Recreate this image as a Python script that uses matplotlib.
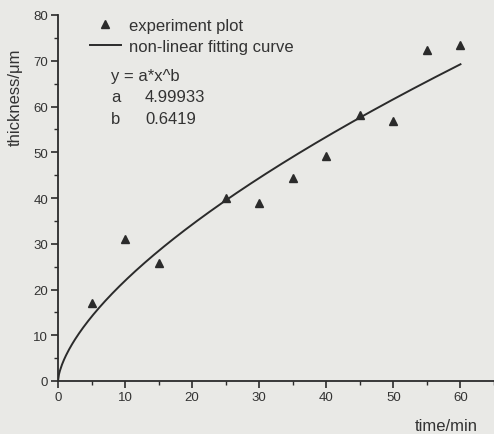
import numpy as np
import matplotlib
matplotlib.use("Agg")
import matplotlib.pyplot as plt
from matplotlib.ticker import MultipleLocator
from matplotlib.lines import Line2D

# ---- data ----
time_min = [5, 10, 15, 25, 30, 35, 40, 45, 50, 55, 60]
thickness_um = [17.0, 31.0, 25.9, 40.0, 38.9, 44.4, 49.2, 58.1, 56.8, 72.3, 73.4]
fit_a = 4.99933
fit_b = 0.6419
fit_x_max = 60
x_ticks = [0, 10, 20, 30, 40, 50, 60]
y_ticks = [0, 10, 20, 30, 40, 50, 60, 70, 80]

plt.rcParams['font.family'] = ['Liberation Sans', 'DejaVu Sans']
ink = '#2b2b2b'
bg = '#e9e9e6'

W, H = 494, 435
fig = plt.figure(figsize=(W / 100, H / 100), dpi=100, facecolor=bg)
ax = fig.add_axes([58 / W, 1 - 382 / H, (W - 58) / W, (382 - 16) / H])
ax.set_facecolor(bg)

fit_x = np.linspace(0, fit_x_max, 400)
fit_y = fit_a * fit_x ** fit_b
ax.plot(fit_x, fit_y, color=ink, lw=1.4, label='non-linear fitting curve', zorder=2)
ax.plot(time_min, thickness_um, linestyle='none', marker='^', color=ink,
        markersize=6, label='experiment plot', zorder=3)

ax.set_xlim(0, 65)
ax.set_ylim(0, 80)
ax.set_xticks(x_ticks)
ax.set_yticks(y_ticks)
ax.xaxis.set_minor_locator(MultipleLocator(5))
ax.yaxis.set_minor_locator(MultipleLocator(5))
for s in ['top', 'right']:
    ax.spines[s].set_visible(False)
for s in ['left', 'bottom']:
    ax.spines[s].set_color(ink)
    ax.spines[s].set_linewidth(1.3)
ax.tick_params(which='major', direction='out', length=5, width=1.2, colors=ink,
               labelsize=9.5, labelcolor='#333333', pad=2)
ax.tick_params(which='minor', direction='out', length=3, width=1.0, colors=ink)

fig.text(446 / W, 1 - 427 / H, 'time/min', ha='center', va='center',
         fontsize=12, color='#333333')
fig.text(15 / W, 1 - 97 / H, 'thickness/\u03bcm', ha='center', va='center',
         rotation=90, fontsize=12, color='#333333')

handles = [Line2D([], [], linestyle='none', marker='^', color=ink, markersize=6),
           Line2D([], [], color=ink, lw=1.4)]
leg = ax.legend(handles, ['experiment plot', 'non-linear fitting curve'],
                loc='upper left', bbox_to_anchor=(90 / W, 1 - 19 / H),
                bbox_transform=fig.transFigure, frameon=False, fontsize=12,
                handlelength=1.85, handletextpad=0.5, labelspacing=0.35,
                borderaxespad=0, borderpad=0)
for t in leg.get_texts():
    t.set_color('#333333')

fig.text(111 / W, 1 - 77 / H, 'y = a*x^b', ha='left', va='center', fontsize=12, color='#333333')
fig.text(111 / W, 1 - 98 / H, 'a', ha='left', va='center', fontsize=12, color='#333333')
fig.text(145 / W, 1 - 98 / H, f'{fit_a}', ha='left', va='center', fontsize=12, color='#333333')
fig.text(111 / W, 1 - 120 / H, 'b', ha='left', va='center', fontsize=12, color='#333333')
fig.text(145 / W, 1 - 120 / H, f'{fit_b}', ha='left', va='center', fontsize=12, color='#333333')

fig.savefig('out.png', dpi=100, facecolor=bg)
